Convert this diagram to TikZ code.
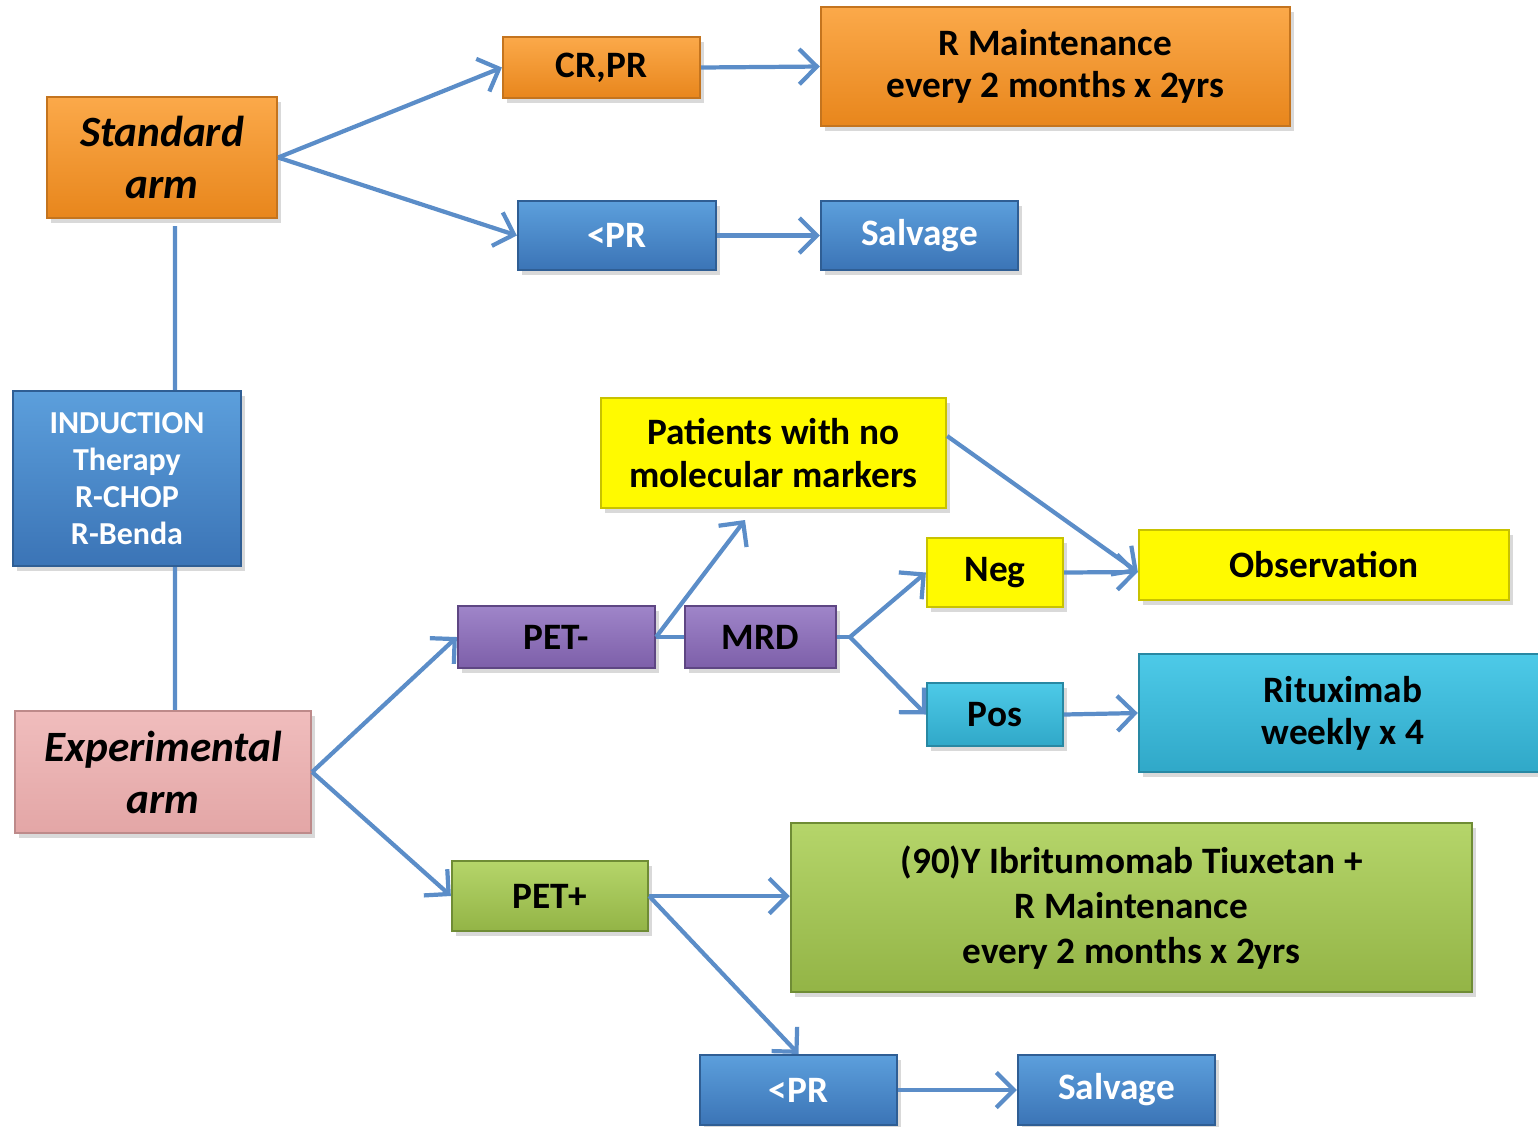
\documentclass[tikz,border=0pt]{standalone}
\usepackage{fontspec}
\setmainfont{Carlito}
\usetikzlibrary{arrows.meta,shadows}

\definecolor{linkblue}{HTML}{5B8DC8}
\definecolor{orangetop}{HTML}{FBA94A}
\definecolor{orangebot}{HTML}{E8861C}
\definecolor{orangeline}{HTML}{C4741E}
\definecolor{bluetop}{HTML}{5C9FDC}
\definecolor{bluebot}{HTML}{3B74B6}
\definecolor{blueline}{HTML}{2F5E94}
\definecolor{pinktop}{HTML}{F0BDBD}
\definecolor{pinkbot}{HTML}{E3A6A6}
\definecolor{pinkline}{HTML}{BD8A8A}
\definecolor{yellowfill}{HTML}{FFFA00}
\definecolor{yellowline}{HTML}{C8C200}
\definecolor{purpletop}{HTML}{9F85C9}
\definecolor{purplebot}{HTML}{7D5FA9}
\definecolor{purpleline}{HTML}{5E4683}
\definecolor{cyantop}{HTML}{4DCAE8}
\definecolor{cyanbot}{HTML}{30A8C8}
\definecolor{cyanline}{HTML}{2888A3}
\definecolor{greentop}{HTML}{B5D56A}
\definecolor{greenbot}{HTML}{93B446}
\definecolor{greenline}{HTML}{6F8C35}

\tikzset{
  card/.style={rectangle, line width=0.6pt, align=center, inner sep=0pt,
    drop shadow={shadow xshift=0.04cm, shadow yshift=-0.05cm, opacity=0.3}},
  orangecard/.style={card, draw=orangeline, top color=orangetop, bottom color=orangebot},
  bluecard/.style={card, draw=blueline, top color=bluetop, bottom color=bluebot, text=white},
  pinkcard/.style={card, draw=pinkline, top color=pinktop, bottom color=pinkbot},
  yellowcard/.style={card, draw=yellowline, fill=yellowfill},
  purplecard/.style={card, draw=purpleline, top color=purpletop, bottom color=purplebot},
  cyancard/.style={card, draw=cyanline, top color=cyantop, bottom color=cyanbot},
  greencard/.style={card, draw=greenline, top color=greentop, bottom color=greenbot},
  armfont/.style={font=\fontsize{12.3}{14.8}\selectfont\bfseries\itshape},
  boxfont/.style={font=\fontsize{10.6}{12}\selectfont\bfseries},
  link/.style={draw=linkblue, line width=1.2pt},
  flow/.style={link, -{Straight Barb[length=5pt,width=10pt]}}
}

\begin{document}
\begin{tikzpicture}[x=0.01cm,y=-0.01cm]
	\useasboundingbox (0,0) rectangle (1538,1126);
	% arms and induction
	\node[orangecard, armfont, minimum width=2.30cm, minimum height=1.21cm] (std) at (162,157.5) {Standard\\arm};
	\node[bluecard, font=\fontsize{9.1}{10.5}\selectfont\bfseries, minimum width=2.28cm, minimum height=1.75cm] (induct) at (127,478.5) {INDUCTION\\Therapy\\R-CHOP\\R-Benda};
	\node[pinkcard, armfont, minimum width=2.96cm, minimum height=1.22cm] (exper) at (163,772) {Experimental\\arm};

	% standard branch
	\node[orangecard, boxfont, minimum width=1.97cm, minimum height=0.61cm] (crpr) at (601.5,67.5) {CR,PR};
	\node[orangecard, boxfont, minimum width=4.69cm, minimum height=1.19cm] (rmaint) at (1055.5,66.5) {R Maintenance\\every 2 months x 2yrs};
	\node[bluecard, boxfont, minimum width=1.98cm, minimum height=0.69cm] (lowpr) at (617,235.5) {<PR};
	\node[bluecard, boxfont, minimum width=1.97cm, minimum height=0.69cm] (salv) at (919.5,235.5) {Salvage};

	% experimental branch, PET-
	\node[yellowcard, boxfont, minimum width=3.45cm, minimum height=1.10cm] (nomark) at (773.5,453) {Patients with no\\molecular markers};
	\node[purplecard, boxfont, minimum width=1.97cm, minimum height=0.62cm] (petneg) at (556.5,637) {PET-};
	\node[purplecard, boxfont, minimum width=1.51cm, minimum height=0.62cm] (mrd) at (760.5,637) {MRD};
	\node[yellowcard, boxfont, minimum width=1.36cm, minimum height=0.69cm] (neg) at (995,572.5) {Neg};
	\node[cyancard, boxfont, minimum width=1.36cm, minimum height=0.63cm] (pos) at (995,714.5) {Pos};
	\node[yellowcard, boxfont, minimum width=3.70cm, minimum height=0.70cm] (obs) at (1324,565) {Observation};
	\node[cyancard, boxfont, minimum width=4.08cm, minimum height=1.18cm] (ritux) at (1343,713) {Rituximab\\weekly x 4};

	% experimental branch, PET+
	\node[greencard, font=\fontsize{10.6}{12.9}\selectfont\bfseries, minimum width=6.81cm, minimum height=1.69cm] (ibrit) at (1131.5,907.5) {(90)Y Ibritumomab Tiuxetan +\\R Maintenance\\every 2 months x 2yrs};
	\node[greencard, boxfont, minimum width=1.96cm, minimum height=0.70cm] (petpos) at (550,896) {PET+};
	\node[bluecard, boxfont, minimum width=1.97cm, minimum height=0.70cm] (lowprb) at (798.5,1090) {<PR};
	\node[bluecard, boxfont, minimum width=1.97cm, minimum height=0.70cm] (salvb) at (1116.5,1090) {Salvage};

	\coordinate (nomarkin) at (745,520);
	\coordinate (mrdfork) at (850,637);

	% connectors
	\draw[link] ([xshift=0.13cm, yshift=-0.07cm]std.south) -- ([xshift=0.48cm]induct.north);
	\draw[link] ([xshift=0.48cm]induct.south) -- ([xshift=0.12cm]exper.north);

	\draw[flow] (std.east) -- (crpr.west);
	\draw[flow] (std.east) -- (lowpr.west);
	\draw[flow] (crpr.east) -- (rmaint.west);
	\draw[flow] (lowpr.east) -- (salv.west);

	\draw[flow] (exper.east) -- (petneg.west);
	\draw[flow] (exper.east) -- (petpos.west);
	\draw[link] (petneg.east) -- (mrd.west);
	\draw[flow] (petneg.east) -- (nomarkin);
	\draw[link] (mrd.east) -- (mrdfork);
	\draw[flow] (mrdfork) -- (neg.west);
	\draw[flow] (mrdfork) -- (pos.west);
	\draw[flow] ([yshift=0.17cm]nomark.east) -- ([yshift=-0.07cm]obs.west);
	\draw[flow] (neg.east) -- ([yshift=-0.07cm]obs.west);
	\draw[flow] (pos.east) -- (ritux.west);

	\draw[flow] (petpos.east) -- (ibrit.west |- petpos.east);
	\draw[flow] (petpos.east) -- (lowprb.north);
	\draw[flow] (lowprb.east) -- (salvb.west);
\end{tikzpicture}
\end{document}
